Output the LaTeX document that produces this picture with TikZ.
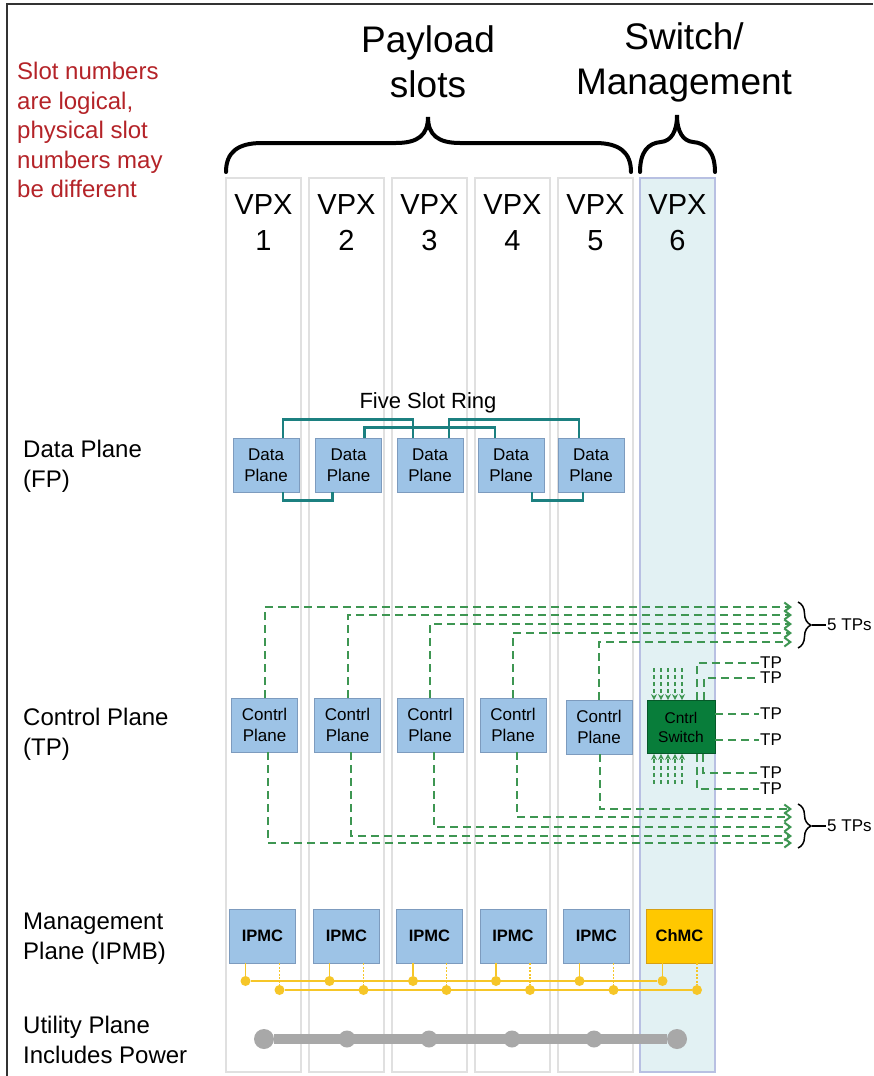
\documentclass[tikz,border=0pt]{standalone}
\usepackage{fontspec}
\setmainfont{Liberation Sans}
\usetikzlibrary{arrows.meta,decorations.pathreplacing}

\definecolor{slotline}{RGB}{224,224,224}
\definecolor{swfill}{RGB}{226,241,243}
\definecolor{swline}{RGB}{184,192,226}
\definecolor{boxblue}{RGB}{157,195,230}
\definecolor{boxline}{RGB}{125,155,190}
\definecolor{ringteal}{RGB}{28,128,128}
\definecolor{tpgreen}{RGB}{62,150,82}
\definecolor{swgreen}{RGB}{8,125,58}
\definecolor{chmcgold}{RGB}{255,200,0}
\definecolor{chmcline}{RGB}{215,160,20}
\definecolor{busgold}{RGB}{246,198,40}
\definecolor{utilgray}{RGB}{168,168,168}
\definecolor{notered}{RGB}{180,35,40}

\tikzset{
	frame/.style={draw=black!80, line width=2.5pt},
	slotcol/.style={draw=slotline, fill=white, line width=1.2pt, minimum width=75pt, minimum height=894pt, inner sep=0pt},
	swcol/.style={slotcol, draw=swline, fill=swfill},
	vpx/.style={align=center, font=\fontsize{29}{36}\selectfont},
	title/.style={align=center, font=\fontsize{37}{45}\selectfont},
	planelabel/.style={anchor=west, align=left, inner sep=0pt, font=\fontsize{24}{30}\selectfont},
	note/.style={planelabel, text=notered, font=\fontsize{24}{29.5}\selectfont},
	bigbrace/.style={draw=black, line width=4pt, line cap=round},
	blk/.style={draw=boxline, fill=boxblue, line width=0.8pt, minimum width=66pt, minimum height=54pt, inner sep=0pt, align=center, font=\fontsize{17}{21}\selectfont},
	mgmt/.style={blk, font=\bfseries\fontsize{16.5}{21}\selectfont},
	chmc/.style={mgmt, draw=chmcline, fill=chmcgold},
	switch/.style={blk, draw=swgreen!70!black, fill=swgreen, minimum width=68pt, minimum height=53pt, font=\fontsize{15.5}{19}\selectfont},
	ringlabel/.style={font=\fontsize{22}{26}\selectfont},
	ring/.style={draw=ringteal, line width=2.8pt},
	tpline/.style={draw=tpgreen, line width=2pt, dash pattern=on 8pt off 5pt},
	tparrow/.style={tpline, -{Straight Barb[length=6pt,width=9pt]}},
	stub/.style={draw=tpgreen, line width=1.8pt, dash pattern=on 4pt off 3pt, -{Stealth[length=6pt,width=6pt]}},
	tpbrace/.style={draw=black, line width=1.5pt, decorate, decoration={brace, amplitude=13pt}},
	tplabel/.style={anchor=west, inner sep=1pt, font=\fontsize{17}{18}\selectfont},
	ybus/.style={draw=busgold, line width=1.8pt},
	ystub/.style={ybus, dash pattern=on 2pt off 1.5pt},
	ydot/.style={circle, fill=busgold, inner sep=0pt, minimum size=10pt},
	util/.style={draw=utilgray, line width=10pt},
	udot/.style={circle, fill=utilgray, inner sep=0pt, minimum size=17pt},
}

\begin{document}
\begin{tikzpicture}[x=1pt, y=-1pt]
	\useasboundingbox (0,0) rectangle (873,1076);

	\draw[frame] (7,1076) -- (7,4) -- (873,4);

	\node[note] (note) at (17,130) {Slot numbers\\are logical,\\physical slot\\numbers may\\be different};

	\node[title] (payload) at (428,62) {Payload\\slots};
	\node[title] (swmgmt) at (684,62) {Switch/\\Management};

	\draw[bigbrace] (226,172) .. controls (226,152) and (238,143) .. (262,143) -- (396,143) .. controls (418,143) and (428,135) .. (428,117) .. controls (428,135) and (438,143) .. (460,143) -- (595,143) .. controls (619,143) and (631,152) .. (631,172);
	\draw[bigbrace] (640,172) .. controls (640,152) and (648,143) .. (661,142) .. controls (671,141) and (677,132) .. (677,115) .. controls (677,132) and (683,141) .. (693,142) .. controls (706,143) and (715,152) .. (715,172);

	\node[slotcol] (s1) at (263.5,625) {};
	\node[slotcol] (s2) at (346.5,625) {};
	\node[slotcol] (s3) at (429.5,625) {};
	\node[slotcol] (s4) at (512.5,625) {};
	\node[slotcol] (s5) at (595.5,625) {};
	\node[swcol] (s6) at (677.5,625) {};

	\node[vpx] (v1) at (263.5,223) {VPX\\1};
	\node[vpx] (v2) at (346.5,223) {VPX\\2};
	\node[vpx] (v3) at (429.5,223) {VPX\\3};
	\node[vpx] (v4) at (512.5,223) {VPX\\4};
	\node[vpx] (v5) at (595.5,223) {VPX\\5};
	\node[vpx] (v6) at (677.5,223) {VPX\\6};

	\node[planelabel] (dpl) at (23,466) {Data Plane\\(FP)};
	\node[planelabel] (cpl) at (23,734) {Control Plane\\(TP)};
	\node[planelabel] (mpl) at (23,939) {Management\\Plane (IPMB)};
	\node[planelabel] (upl) at (23,1040) {Utility Plane\\Includes Power};

	\node[ringlabel] (ring) at (428,403) {Five Slot Ring};

	\node[blk] (dp1) at (266,465) {Data\\Plane};
	\node[blk] (dp2) at (348.5,465) {Data\\Plane};
	\node[blk] (dp3) at (430,465) {Data\\Plane};
	\node[blk] (dp4) at (511,465) {Data\\Plane};
	\node[blk] (dp5) at (591,465) {Data\\Plane};

	\draw[ring] ([xshift=17pt]dp1.north) -- ++(0,-18) -| ([xshift=-17pt]dp3.north);
	\draw[ring] ([xshift=19pt]dp3.north) -- ++(0,-18) -| ([xshift=-12pt]dp5.north);
	\draw[ring] ([xshift=16pt]dp2.north) -- ++(0,-10) -| ([xshift=-16pt]dp4.north);
	\draw[ring] ([xshift=17pt]dp1.south) -- ++(0,8) -| ([xshift=-16pt]dp2.south);
	\draw[ring] ([xshift=21pt]dp4.south) -- ++(0,8) -| ([xshift=-8pt]dp5.south);

	\node[blk] (cp1) at (264.5,725) {Contrl\\Plane};
	\node[blk] (cp2) at (347.5,725) {Contrl\\Plane};
	\node[blk] (cp3) at (430,725) {Contrl\\Plane};
	\node[blk] (cp4) at (513,725) {Contrl\\Plane};
	\node[blk] (cp5) at (599,727) {Contrl\\Plane};

	\coordinate (up1) at (792,607);
	\coordinate (up2) at (792,615);
	\coordinate (up3) at (792,624);
	\coordinate (up4) at (792,633);
	\coordinate (up5) at (792,642);
	\coordinate (dn1) at (792,843);
	\coordinate (dn2) at (792,836);
	\coordinate (dn3) at (792,827);
	\coordinate (dn4) at (792,817);
	\coordinate (dn5) at (792,809);

	\draw[tparrow] (cp1.north) |- (up1);
	\draw[tparrow] (cp2.north) |- (up2);
	\draw[tparrow] (cp3.north) |- (up3);
	\draw[tparrow] (cp4.north) |- (up4);
	\draw[tparrow] (cp5.north) |- (up5);
	\draw[tparrow] ([xshift=3.5pt]cp1.south) |- (dn1);
	\draw[tparrow] ([xshift=3.5pt]cp2.south) |- (dn2);
	\draw[tparrow] ([xshift=4pt]cp3.south) |- (dn3);
	\draw[tparrow] ([xshift=4pt]cp4.south) |- (dn4);
	\draw[tparrow] ([xshift=1pt]cp5.south) |- (dn5);

	\draw[tpbrace] (798,602) -- (798,648);
	\draw[tpbrace] (798,804) -- (798,848);
	\coordinate (tip1) at (812,625);
	\coordinate (tip2) at (812,826);
	\node[tplabel] (tps1) at (826,625) {5 TPs};
	\node[tplabel] (tps2) at (826,826) {5 TPs};
	\draw[line width=1.2pt] (tip1) -- (tps1.west);
	\draw[line width=1.2pt] (tip2) -- (tps2.west);

	\node[switch] (sw) at (681,727) {Cntrl\\Switch};

	\draw[stub] ([shift={(-27,-32)}]sw.north) -- ([xshift=-27pt]sw.north);
	\draw[stub] ([shift={(-20,-32)}]sw.north) -- ([xshift=-20pt]sw.north);
	\draw[stub] ([shift={(-13,-32)}]sw.north) -- ([xshift=-13pt]sw.north);
	\draw[stub] ([shift={(-6,-32)}]sw.north) -- ([xshift=-6pt]sw.north);
	\draw[stub] ([shift={(1,-32)}]sw.north) -- ([xshift=1pt]sw.north);
	\draw[stub] ([shift={(-27,30)}]sw.south) -- ([xshift=-27pt]sw.south);
	\draw[stub] ([shift={(-20,30)}]sw.south) -- ([xshift=-20pt]sw.south);
	\draw[stub] ([shift={(-13,30)}]sw.south) -- ([xshift=-13pt]sw.south);
	\draw[stub] ([shift={(-6,30)}]sw.south) -- ([xshift=-6pt]sw.south);
	\draw[stub] ([shift={(1,30)}]sw.south) -- ([xshift=1pt]sw.south);

	\node[tplabel] (tp1) at (759,663) {TP};
	\node[tplabel] (tp2) at (759,678) {TP};
	\node[tplabel] (tp3) at (759,714) {TP};
	\node[tplabel] (tp4) at (759,740) {TP};
	\node[tplabel] (tp5) at (759,773) {TP};
	\node[tplabel] (tp6) at (759,789) {TP};

	\draw[tpline] ([xshift=16pt]sw.north) |- (tp1.west);
	\draw[tpline] ([xshift=23pt]sw.north) |- (tp2.west);
	\draw[tpline] ([yshift=13pt]sw.east) -- (tp3.west);
	\draw[tpline] ([yshift=-13pt]sw.east) -- (tp4.west);
	\draw[tpline] ([xshift=22pt]sw.south) |- (tp5.west);
	\draw[tpline] ([xshift=16pt]sw.south) |- (tp6.west);

	\node[mgmt] (mc1) at (262.5,936) {IPMC};
	\node[mgmt] (mc2) at (346.5,936) {IPMC};
	\node[mgmt] (mc3) at (429.5,936) {IPMC};
	\node[mgmt] (mc4) at (513,936) {IPMC};
	\node[mgmt] (mc5) at (596.5,936) {IPMC};
	\node[chmc] (chmc) at (679.5,936) {ChMC};

	\node[ydot] (a1) at (245.5,981) {};
	\node[ydot] (a2) at (329.5,981) {};
	\node[ydot] (a3) at (413,981) {};
	\node[ydot] (a4) at (496,981) {};
	\node[ydot] (a5) at (579.5,981) {};
	\node[ydot] (a6) at (662.5,981) {};
	\node[ydot] (b1) at (279.5,990) {};
	\node[ydot] (b2) at (363.5,990) {};
	\node[ydot] (b3) at (446.5,990) {};
	\node[ydot] (b4) at (530,990) {};
	\node[ydot] (b5) at (613.5,990) {};
	\node[ydot] (b6) at (697,990) {};

	\draw[ybus] (mc1.south -| a1) -- (a1);
	\draw[ybus] (mc2.south -| a2) -- (a2);
	\draw[ybus] (mc3.south -| a3) -- (a3);
	\draw[ybus] (mc4.south -| a4) -- (a4);
	\draw[ybus] (mc5.south -| a5) -- (a5);
	\draw[ybus] (chmc.south -| a6) -- (a6);
	\draw[ystub] (mc1.south -| b1) -- (b1);
	\draw[ystub] (mc2.south -| b2) -- (b2);
	\draw[ystub] (mc3.south -| b3) -- (b3);
	\draw[ystub] (mc4.south -| b4) -- (b4);
	\draw[ystub] (mc5.south -| b5) -- (b5);
	\draw[ystub] (chmc.south -| b6) -- (b6);
	\draw[ybus] (a1) -- (a6);
	\draw[ybus] (b1) -- (b6);

	\node[udot, minimum size=20pt] (u1) at (264,1039) {};
	\node[udot] (u2) at (347,1039) {};
	\node[udot] (u3) at (429,1039) {};
	\node[udot] (u4) at (512,1039) {};
	\node[udot] (u5) at (594,1039) {};
	\node[udot, minimum size=20pt] (u6) at (677,1039) {};
	\draw[util] (u1) -- (u6);

\end{tikzpicture}
\end{document}
